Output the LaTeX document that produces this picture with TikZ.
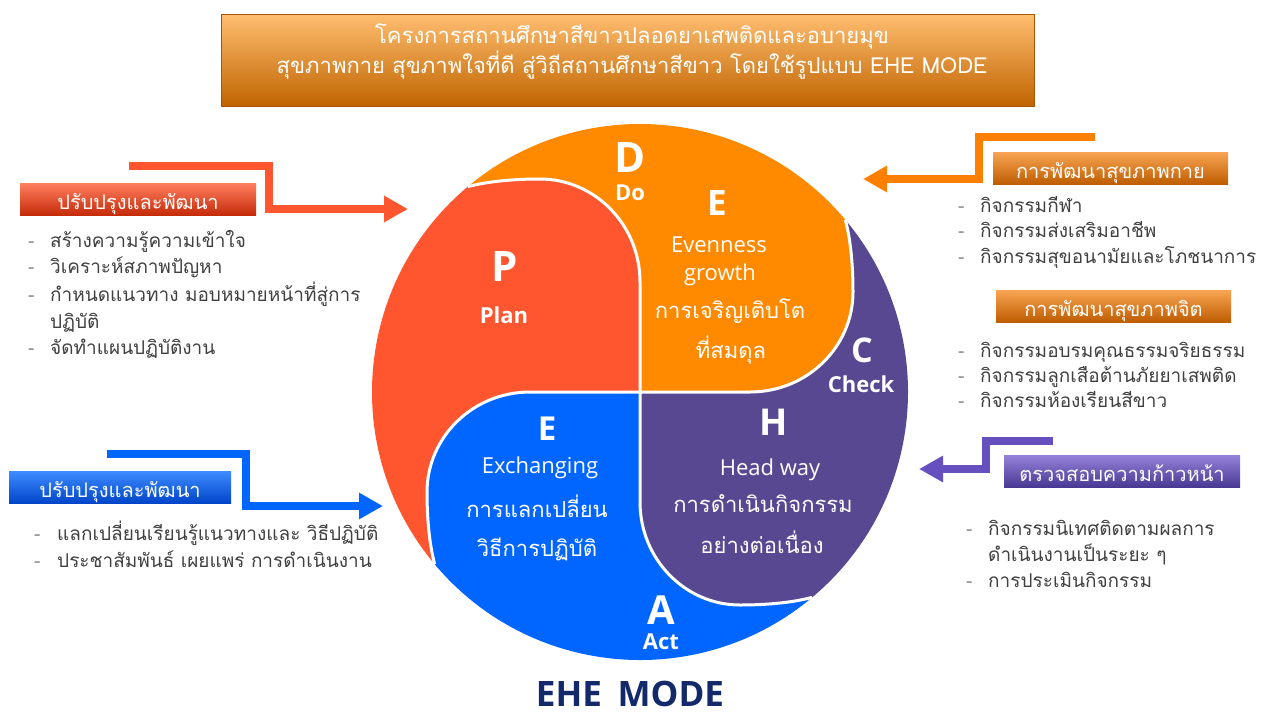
\documentclass[tikz,border=0pt]{standalone}
\usepackage{fontspec}
\setmainfont{Loma}[Script=Thai]
\newfontfamily\ehesans{Open Sans}
\usepackage{tikz}
\usetikzlibrary{arrows.meta}
\definecolor{planred}{HTML}{FF5630}
\definecolor{doorange}{HTML}{FF8A00}
\definecolor{checkpurple}{HTML}{584892}
\definecolor{actblue}{HTML}{0066FF}
\definecolor{listgray}{HTML}{404040}
\definecolor{dashgray}{HTML}{8A8A8A}
\definecolor{modenavy}{HTML}{14296A}
\definecolor{arroworange}{HTML}{FF8000}
\definecolor{arrowpurple}{HTML}{6650C0}
\definecolor{titletop}{HTML}{FFBE70}
\definecolor{titlemid}{HTML}{FF8C12}
\definecolor{titlebot}{HTML}{C06400}
\definecolor{titleedge}{HTML}{A85500}
\definecolor{redtop}{HTML}{FF7D5E}
\definecolor{redbot}{HTML}{C42A08}
\definecolor{bluetop}{HTML}{3D8BFF}
\definecolor{bluebot}{HTML}{0045C8}
\definecolor{orangetop}{HTML}{F8A452}
\definecolor{orangebot}{HTML}{BE5C00}
\definecolor{purpletop}{HTML}{9482DA}
\definecolor{purplebot}{HTML}{4A3994}
\def\listdash{\textcolor{dashgray}{-}}

\tikzset{
  titlebar/.style={minimum width=813pt, minimum height=92pt, inner sep=0pt,
    top color=titletop, middle color=titlemid, bottom color=titlebot, draw=titleedge, line width=1pt},
  titletext/.style={text=white, font=\fontsize{22}{22}\selectfont, anchor=base, inner sep=0pt},
  labelbox/.style={minimum width=#1, minimum height=32pt, inner sep=0pt, text=white,
    font=\fontsize{20}{20}\selectfont, text height=24pt, text depth=4pt},
  listbody/.style={text=listgray, font=\fontsize{19}{#1}\selectfont, anchor=base west, inner sep=0pt},
  bentarrow/.style={line width=8pt, -{Triangle[length=24pt,width=25pt]}},
  seam/.style={draw=white, line width=3pt},
  letter/.style={text=white, font=\ehesans\bfseries\fontsize{#1}{#1}\selectfont, anchor=base, inner sep=0pt},
  stagename/.style={text=white, font=\ehesans\bfseries\fontsize{22}{22}\selectfont, anchor=base, inner sep=0pt},
  engline/.style={text=white, font=\ehesans\fontsize{22}{22}\selectfont, anchor=base, inner sep=0pt},
  thailine/.style={text=white, font=\fontsize{22}{22}\selectfont, anchor=base, inner sep=0pt},
}

\begin{document}
\begin{tikzpicture}[x=1pt,y=1pt]
			%%%%% START %%%%%
			\useasboundingbox (0,0) rectangle (1261,-713);
			
			\node[titlebar] (titlebox) at (628,-60) {};
			\node[titletext] (titleone) at (632,-43) {โครงการสถานศึกษาสีขาวปลอดยาเสพติดและอบายมุข};
			\node[titletext] (titletwo) at (632,-73) {สุขภาพกาย สุขภาพใจที่ดี สู่วิถีสถานศึกษาสีขาว โดยใช้รูปแบบ EHE MODE};
			
			%%%%% pieces %%%%%
			\foreach \ang/\col in {0/doorange, 90/planred, 180/actblue, 270/checkpurple}{
				\begin{scope}[shift={(640,-392)}, rotate=\ang]
					\fill[\col] (0,0) -- (110,0) .. controls (167,0) and (213,45) .. (213,100)
						.. controls (213,130) and (210,155) .. (40:268)
						arc[start angle=40, end angle=130, radius=268]
						.. controls (-155,210) and (-130,213) .. (-100,213)
						.. controls (-45,213) and (0,167) .. (0,110) -- cycle;
				\end{scope}
			}
			\foreach \ang in {0,90,180,270}{
				\begin{scope}[shift={(640,-392)}, rotate=\ang]
					\draw[seam] (0,0) -- (110,0) .. controls (167,0) and (213,45) .. (213,100)
						.. controls (213,130) and (210,155) .. (40:268);
				\end{scope}
			}
			
			\node[letter=42] (dletter) at (630,-172) {D};
			\node[stagename] (doname) at (630,-200) {Do};
			\node[letter=42] (pletter) at (505,-281) {P};
			\node[stagename] (planname) at (504,-323) {Plan};
			\node[letter=35] (eletter) at (717,-215) {E};
			\node[engline] (evenness) at (719,-252) {Evenness};
			\node[engline] (growth) at (720,-280) {growth};
			\node[thailine] (growthone) at (730,-318) {การเจริญเติบโต};
			\node[thailine] (growthtwo) at (731,-358) {ที่สมดุล};
			\node[letter=34] (cletter) at (862,-362) {C};
			\node[stagename] (checkname) at (861,-392) {Check};
			\node[letter=37] (hletter) at (774,-435) {H};
			\node[engline] (headway) at (770,-475) {Head way};
			\node[thailine] (headone) at (763,-512) {การดำเนินกิจกรรม};
			\node[thailine] (headtwo) at (762,-553) {อย่างต่อเนื่อง};
			\node[letter=40] (aletter) at (661,-624) {A};
			\node[stagename] (actname) at (661,-649) {Act};
			\node[letter=33] (xletter) at (547,-440) {E};
			\node[engline] (exchanging) at (540,-473) {Exchanging};
			\node[thailine] (exone) at (537,-517) {การแลกเปลี่ยน};
			\node[thailine] (extwo) at (537,-556) {วิธีการปฏิบัติ};
			
			\node[letter=35, text=modenavy] (ehemode) at (630,-706) {EHE\hspace{0.45em}MODE};
			
			%%%%% arrows %%%%%
			\coordinate (planfrom) at (129,-166);
			\coordinate (planbend) at (269,-166);
			\coordinate (planto) at (408,-209);
			\draw[bentarrow, planred] (planfrom) -- (planbend) |- (planto);
			
			\coordinate (actfrom) at (107,-454);
			\coordinate (actbend) at (246,-454);
			\coordinate (actto) at (383,-506);
			\draw[bentarrow, actblue] (actfrom) -- (actbend) |- (actto);
			
			\coordinate (dofrom) at (1095,-137);
			\coordinate (dobend) at (979,-137);
			\coordinate (doto) at (863,-179);
			\draw[bentarrow, arroworange] (dofrom) -- (dobend) |- (doto);
			
			\coordinate (checkfrom) at (1053,-441);
			\coordinate (checkbend) at (986,-441);
			\coordinate (checkto) at (919,-469);
			\draw[bentarrow, arrowpurple] (checkfrom) -- (checkbend) |- (checkto);
			
			%%%%% labels %%%%%
			\node[labelbox=236pt, top color=redtop, bottom color=redbot] (planlabel) at (138,-199.5) {ปรับปรุงและพัฒนา};
			\node[labelbox=222pt, top color=bluetop, bottom color=bluebot] (actlabel) at (120,-487.5) {ปรับปรุงและพัฒนา};
			\node[labelbox=235pt, top color=orangetop, bottom color=orangebot] (bodylabel) at (1110.5,-168.5) {การพัฒนาสุขภาพกาย};
			\node[labelbox=235pt, top color=orangetop, bottom color=orangebot] (mindlabel) at (1113.5,-306.5) {การพัฒนาสุขภาพจิต};
			\node[labelbox=236pt, top color=purpletop, bottom color=purplebot] (checklabel) at (1122,-471) {ตรวจสอบความก้าวหน้า};
			
			%%%%% lists %%%%%
			\node[listbody=26.8pt] (planlist) at (28,-247) {\begin{tabular}[t]{@{}p{22pt}@{}l@{}}
				\listdash & สร้างความรู้ความเข้าใจ\\
				\listdash & วิเคราะห์สภาพปัญหา\\
				\listdash & กำหนดแนวทาง มอบหมายหน้าที่สู่การ\\
				 & ปฏิบัติ\\
				\listdash & จัดทำแผนปฏิบัติงาน
			\end{tabular}};
			\node[listbody=27pt] (actlist) at (34,-540) {\begin{tabular}[t]{@{}p{23pt}@{}l@{}}
				\listdash & แลกเปลี่ยนเรียนรู้แนวทางและ วิธีปฏิบัติ\\
				\listdash & ประชาสัมพันธ์ เผยแพร่ การดำเนินงาน
			\end{tabular}};
			\node[listbody=25.5pt] (bodylist) at (958,-212) {\begin{tabular}[t]{@{}p{22pt}@{}l@{}}
				\listdash & กิจกรรมกีฬา\\
				\listdash & กิจกรรมส่งเสริมอาชีพ\\
				\listdash & กิจกรรมสุขอนามัยและโภชนาการ
			\end{tabular}};
			\node[listbody=25pt] (mindlist) at (958,-357) {\begin{tabular}[t]{@{}p{22pt}@{}l@{}}
				\listdash & กิจกรรมอบรมคุณธรรมจริยธรรม\\
				\listdash & กิจกรรมลูกเสือต้านภัยยาเสพติด\\
				\listdash & กิจกรรมห้องเรียนสีขาว
			\end{tabular}};
			\node[listbody=26pt] (checklist) at (966,-535) {\begin{tabular}[t]{@{}p{22pt}@{}l@{}}
				\listdash & กิจกรรมนิเทศติดตามผลการ\\
				 & ดำเนินงานเป็นระยะ ๆ\\
				\listdash & การประเมินกิจกรรม
			\end{tabular}};
			
			%%%%% END %%%%%
\end{tikzpicture}
\end{document}
